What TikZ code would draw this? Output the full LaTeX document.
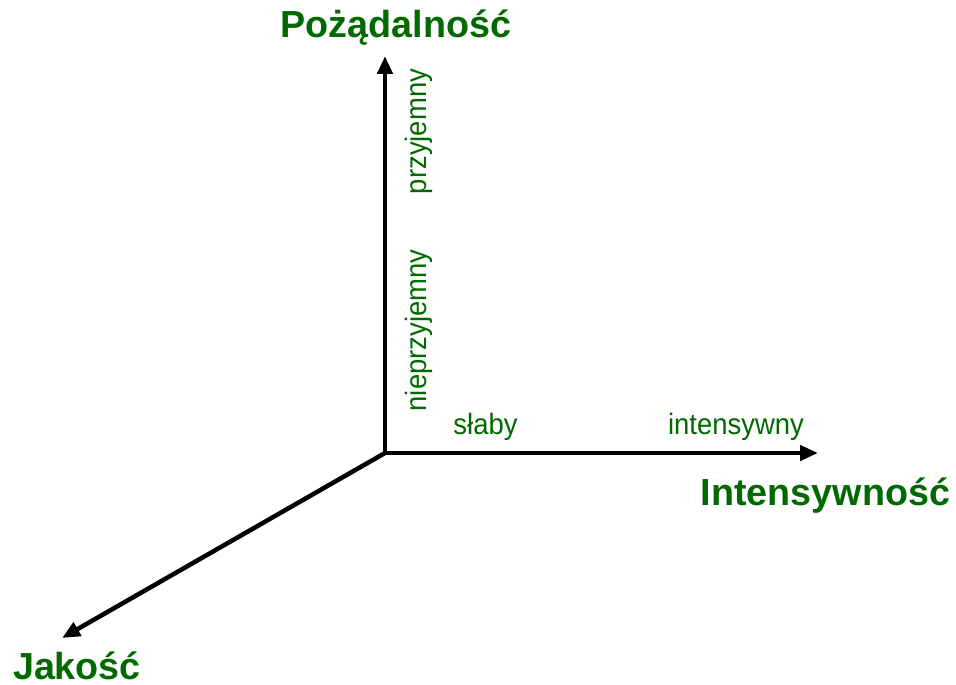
\documentclass[tikz,border=0pt]{standalone}
\usepackage{fontspec}
\setmainfont{Liberation Sans}
\newfontfamily\narrowsans[FakeStretch=0.93]{Liberation Sans}
\usetikzlibrary{arrows.meta}
\definecolor{axisgreen}{RGB}{0,105,0}
\tikzset{
  axis/.style={line width=4.5pt, -{Triangle[length=18pt,width=15pt]}},
  axistitle/.style={text=axisgreen, inner sep=0pt, anchor=base,
    font=\bfseries\fontsize{37.7}{40}\selectfont},
  scalelabel/.style={text=axisgreen, inner sep=0pt, anchor=base,
    font=\narrowsans\fontsize{29.5}{32}\selectfont},
}
\begin{document}
\begin{tikzpicture}[x=1pt,y=-1pt]
  \useasboundingbox (0,0) rectangle (956,685);
  % origin and axis ends
  \coordinate (o) at (385,453);
  \coordinate (ytip) at (385,56);
  \coordinate (xtip) at (818,453);
  \coordinate (ztip) at (62,638);
  \draw[axis] (o) -- (ytip);
  \draw[axis] (o) -- (xtip);
  \draw[axis] (o) -- (ztip);
  % axis titles
  \node[axistitle] (ytitle) at (396,38) {Pożądalność};
  \node[axistitle] (xtitle) at (825.5,505) {Intensywność};
  \node[axistitle] (ztitle) at (77,679) {Jakość};
  % scale labels
  \node[scalelabel] (weak) at (485.5,434.5) {słaby};
  \node[scalelabel] (strong) at (736,434.5) {intensywny};
  \node[scalelabel, rotate=90] (unpleasant) at (426,330.5) {nieprzyjemny};
  \node[scalelabel, rotate=90] (pleasant) at (426,131.5) {przyjemny};
\end{tikzpicture}
\end{document}
